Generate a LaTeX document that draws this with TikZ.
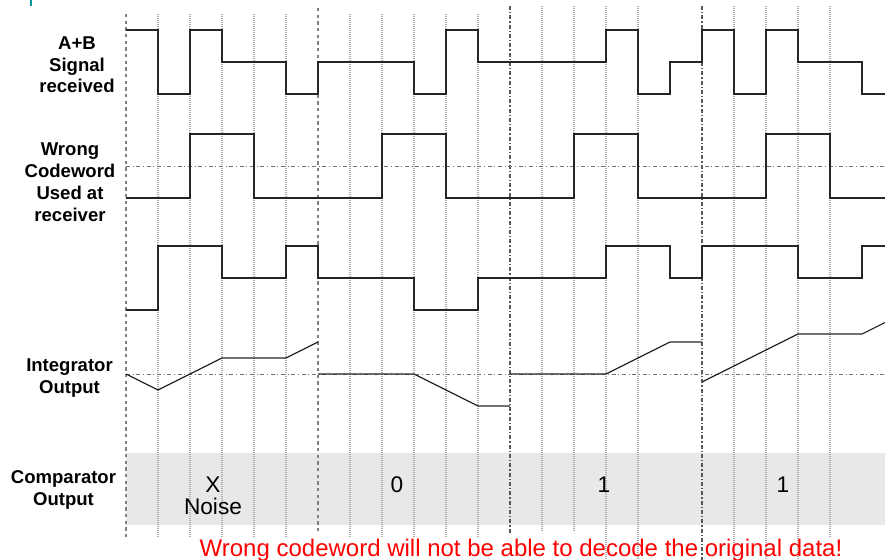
\documentclass[tikz,border=0pt]{standalone}
\usepackage{fontspec}
\setmainfont{Liberation Sans}
\begin{document}
\begin{tikzpicture}[x=0.75pt,y=-0.75pt,
  wave/.style={line width=0.85pt,black!85,line join=miter},
  midline/.style={line width=0.75pt,black!55,dash pattern=on 3pt off 2pt on 0.75pt off 2pt},
  gridlt/.style={line width=1pt,black!32,dash pattern=on 0.75pt off 0.75pt},
  gridmd/.style={line width=1.2pt,black!50,dash pattern=on 2.5pt off 2.5pt},
  griddk/.style={line width=1.2pt,black!65,dash pattern=on 3pt off 1.5pt on 1pt off 1.5pt},
  lbl/.style={font=\fontsize{13.9}{16.3}\selectfont\bfseries,align=center,inner sep=0pt,anchor=base},
  val/.style={font=\fontsize{17}{16.5}\selectfont,align=center,inner sep=0pt,anchor=base},
  note/.style={font=\fontsize{18}{20}\selectfont,text=red,inner sep=0pt,anchor=base}]
\useasboundingbox (0,0) rectangle (885,560);
% teal mark
\fill[color={rgb,255:red,0;green,150;blue,150}] (29.5,0) rectangle (31.5,6);
% comparator band
\fill[black!9] (126,453) rectangle (885,525);
% grid lines
\draw[gridmd] (126,14) -- (126,539);
\foreach \x in {158,190,222,254,286} \draw[gridlt] (\x,14) -- (\x,538);
\draw[gridmd] (318,8) -- (318,534);
\foreach \x in {350,382,414,446,478} \draw[gridlt] (\x,14) -- (\x,538);
\draw[griddk] (510,6) -- (510,534);
\foreach \x in {542,574} \draw[gridlt] (\x,6) -- (\x,531);
\foreach \x in {606,638,734,766,798} \draw[gridlt] (\x,6) -- (\x,560);
\draw[griddk] (702,6) -- (702,560);
\draw[gridlt] (830,6) -- (830,538);
% mid lines
\draw[midline] (126,166) -- (885,166);
\draw[midline] (126,374) -- (885,374);
% A+B signal received
\draw[wave] (126,30)--(158,30)--(158,94)--(190,94)--(190,30)--(222,30)--(222,62)--(286,62)--(286,94)--(318,94)--(318,62)--(414,62)--(414,94)--(446,94)--(446,30)--(478,30)--(478,62)--(606,62)--(606,30)--(638,30)--(638,94)--(670,94)--(670,62)--(702,62)--(702,30)--(734,30)--(734,94)--(766,94)--(766,30)--(798,30)--(798,62)--(862,62)--(862,94)--(885,94);
% wrong codeword
\draw[wave] (126,198)--(190,198)--(190,134)--(254,134)--(254,198)--(382,198)--(382,134)--(446,134)--(446,198)--(574,198)--(574,134)--(638,134)--(638,198)--(766,198)--(766,134)--(830,134)--(830,198)--(885,198);
% product
\draw[wave] (126,310)--(158,310)--(158,246)--(222,246)--(222,278)--(286,278)--(286,246)--(318,246)--(318,278)--(414,278)--(414,310)--(478,310)--(478,278)--(606,278)--(606,246)--(670,246)--(670,278)--(702,278)--(702,246)--(798,246)--(798,278)--(862,278)--(862,246)--(885,246);
% integrator output
\draw[wave] (126,374)--(158,390)--(222,358)--(286,358)--(318,342);
\draw[wave] (318,374)--(414,374)--(478,406)--(510,406);
\draw[wave] (510,374)--(606,374)--(670,342)--(702,342);
\draw[wave] (702,382)--(798,334)--(862,334)--(885,322.5);
% labels (anchor = baseline of last line)
\node[lbl] (lab) at (77,93) {A+B\\Signal\\received};
\node[lbl] (lcw) at (70,221) {Wrong\\Codeword\\Used at\\receiver};
\node[lbl] (lint) at (69.5,393) {Integrator\\Output};
\node[lbl] (lcmp) at (63.5,505) {Comparator\\Output};
% comparator values
\node[val] (vx) at (213,514) {X\\Noise};
\node[val] (v0) at (397,492) {0};
\node[val] (v1) at (604,492) {1};
\node[val] (v2) at (783,492) {1};
% note
\node[note] (msg) at (521,556) {Wrong codeword will not be able to decode the original data!};
\end{tikzpicture}
\end{document}
